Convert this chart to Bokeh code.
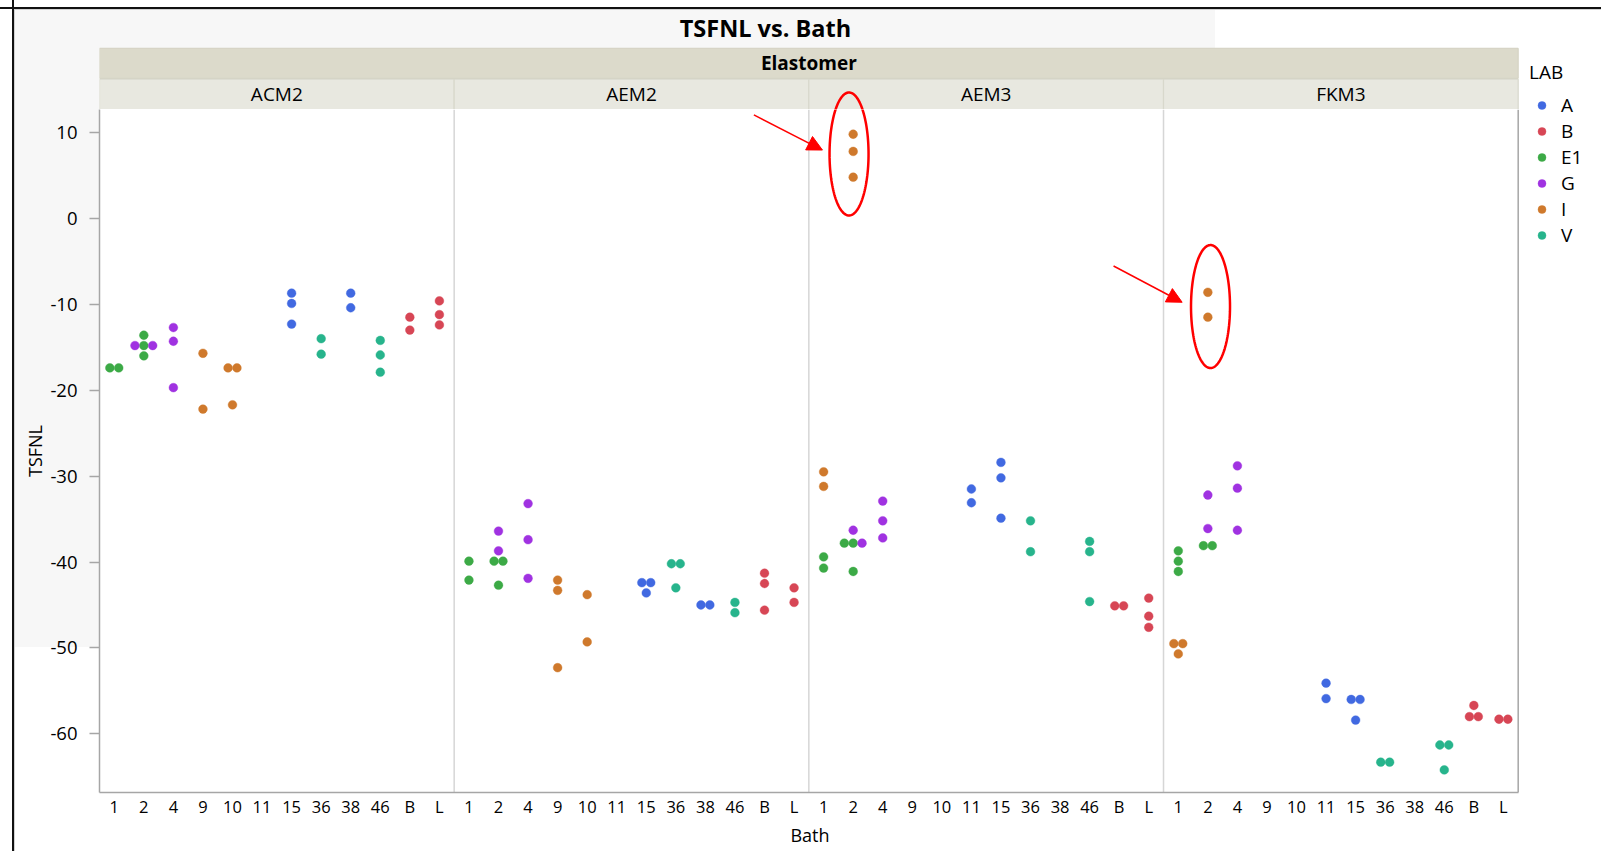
import numpy as np
from bokeh.plotting import figure
from bokeh.layouts import row, column
from bokeh.models import (ColumnDataSource, Range1d, FixedTicker, Legend, LegendItem,
                          Arrow, NormalHead)
from bokeh.core.properties import value
from bokeh.embed import file_html
from bokeh.resources import INLINE

# ---------------- data ----------------
elastomers = ["ACM2", "AEM2", "AEM3", "FKM3"]
baths = ["1", "2", "4", "9", "10", "11", "15", "36", "38", "46", "B", "L"]
labs = ["A", "B", "E1", "G", "I", "V"]
lab_colors = ["#4169E1", "#D74655", "#3CAA46", "#A032E1", "#CF792C", "#27B48C"]
y_ticks = [10, 0, -10, -20, -30, -40, -50, -60]

ACM2_bath = ["1", "1", "2", "2", "2", "2", "2", "4", "4", "4", "9", "9", "10", "10", "10",
             "15", "15", "15", "36", "36", "38", "38", "46", "46", "46", "B", "B", "L", "L", "L"]
ACM2_lab = ["E1", "E1", "E1", "G", "E1", "G", "E1", "G", "G", "G", "I", "I", "I", "I", "I",
            "A", "A", "A", "V", "V", "A", "A", "V", "V", "V", "B", "B", "B", "B", "B"]
ACM2_tsfnl = [-17.4, -17.4, -13.6, -14.8, -14.8, -14.8, -16.0, -12.7, -14.3, -19.7, -15.7, -22.2,
              -17.4, -17.4, -21.7, -8.7, -9.9, -12.3, -14.0, -15.8, -8.7, -10.4, -14.2, -15.9, -17.9,
              -11.5, -13.0, -9.6, -11.2, -12.4]

AEM2_bath = ["1", "1", "2", "2", "2", "2", "2", "4", "4", "4", "9", "9", "9", "10", "10",
             "15", "15", "15", "36", "36", "36", "38", "38", "46", "46", "B", "B", "B", "L", "L"]
AEM2_lab = ["E1", "E1", "G", "G", "E1", "E1", "E1", "G", "G", "G", "I", "I", "I", "I", "I",
            "A", "A", "A", "V", "V", "V", "A", "A", "V", "V", "B", "B", "B", "B", "B"]
AEM2_tsfnl = [-39.9, -42.1, -36.4, -38.7, -39.9, -39.9, -42.7, -33.2, -37.4, -41.9, -42.1, -43.3,
              -52.3, -43.8, -49.3, -42.4, -42.4, -43.6, -40.2, -40.2, -43.0, -45.0, -45.0, -44.7,
              -45.9, -41.3, -42.5, -45.6, -43.0, -44.7]

AEM3_bath = ["1", "1", "1", "1", "2", "2", "2", "2", "2", "2", "2", "2", "4", "4", "4",
             "11", "11", "15", "15", "15", "36", "36", "46", "46", "46", "B", "B", "L", "L", "L"]
AEM3_lab = ["I", "I", "E1", "E1", "I", "I", "I", "G", "E1", "E1", "G", "E1", "G", "G", "G",
            "A", "A", "A", "A", "A", "V", "V", "V", "V", "V", "B", "B", "B", "B", "B"]
AEM3_tsfnl = [-29.5, -31.2, -39.4, -40.7, 9.8, 7.8, 4.8, -36.3, -37.8, -37.8, -37.8, -41.1,
              -32.9, -35.2, -37.2, -31.5, -33.1, -28.4, -30.2, -34.9, -35.2, -38.8, -37.6, -38.8,
              -44.6, -45.1, -45.1, -44.2, -46.3, -47.6]

FKM3_bath = ["1", "1", "1", "1", "1", "1", "2", "2", "2", "2", "2", "2", "4", "4", "4",
             "11", "11", "15", "15", "15", "36", "36", "46", "46", "46", "B", "B", "B", "L", "L"]
FKM3_lab = ["E1", "E1", "E1", "I", "I", "I", "I", "I", "G", "G", "E1", "E1", "G", "G", "G",
            "A", "A", "A", "A", "A", "V", "V", "V", "V", "V", "B", "B", "B", "B", "B"]
FKM3_tsfnl = [-38.7, -39.9, -41.1, -49.5, -49.5, -50.7, -8.6, -11.5, -32.2, -36.1, -38.1, -38.1,
              -28.8, -31.4, -36.3, -54.1, -55.9, -56.0, -56.0, -58.4, -63.3, -63.3, -61.3, -61.3,
              -64.2, -56.7, -58.0, -58.0, -58.3, -58.3]

panels = [(ACM2_bath, ACM2_lab, ACM2_tsfnl), (AEM2_bath, AEM2_lab, AEM2_tsfnl),
          (AEM3_bath, AEM3_lab, AEM3_tsfnl), (FKM3_bath, FKM3_lab, FKM3_tsfnl)]

# ---------------- layout constants ----------------
MAIN_W, TOP_H, LEG_W, TOTAL_H = 1520, 109, 81, 851
LEFT = 99                                      # y-axis position
NB = len(baths)
X0, X1 = -0.5, len(elastomers) * NB - 0.5      # the 4 panels
PX_X = 29.556                                  # px per category
X_R = X0 + (MAIN_W - LEFT) / PX_X
PX_Y = 8.59                                    # px per TSFNL unit
Y_BOTTOM, PLOT_TOP, Y_TOP = -66.83, 12.68, 25.37
STRIP_TOP, STRIP_SPLIT_HI, STRIP_SPLIT_LO = 19.81, 16.3, 16.2
FONT = value("Open Sans")
AXIS_GRAY = "#A6A6A6"
GRAY = "#F7F7F7"
BLACK = "#111111"


def dodge(bath_list, vals, spacing=0.3, tol=0.5):
    """Spread coincident points horizontally, JMP style."""
    offs = [0.0] * len(vals)
    groups = {}
    for i, (b, v) in enumerate(zip(bath_list, vals)):
        rows = groups.setdefault(b, [])
        for r_ in rows:
            if abs(vals[r_[0]] - v) < tol:
                r_.append(i)
                break
        else:
            rows.append([i])
    for rows in groups.values():
        for r_ in rows:
            n = len(r_)
            for k, i in enumerate(r_):
                offs[i] = (k - (n - 1) / 2) * spacing
    return offs


per_lab = {lab: {"x": [], "y": []} for lab in labs}
for pi, (bl, ll, vl) in enumerate(panels):
    offs = dodge(bl, vl)
    for b, l, v, o in zip(bl, ll, vl, offs):
        per_lab[l]["x"].append(pi * NB + baths.index(b) + o)
        per_lab[l]["y"].append(v)

xr = Range1d(X0, X_R)


def bare(fig):
    fig.xgrid.visible = False
    fig.ygrid.visible = False


def css(*layers):
    return {"background": ", ".join(list(layers) + ["#ffffff"])}


# ellipse outlines (annotations), in data units
ellipses = [(24.86, 7.5), (37.09, -10.26)]
t = np.linspace(0, 2 * np.pi, 160)


def draw_ellipses(fig):
    for cx, cy in ellipses:
        fig.line(cx + 19.5 / PX_X * np.cos(t), cy + 61.5 / PX_Y * np.sin(t),
                 line_color="#FF0000", line_width=2.5)


# ---------------- top figure: title + strips ----------------
top = figure(width=MAIN_W, height=TOP_H, x_range=xr, y_range=Range1d(PLOT_TOP, Y_TOP),
             output_backend="svg", toolbar_location=None, title=None,
             x_axis_location=None, y_axis_location=None,
             min_border_left=LEFT, min_border_right=0, min_border_top=0, min_border_bottom=0,
             background_fill_alpha=0, border_fill_alpha=0, outline_line_color=None)
bare(top)
top.styles = css(
    f"linear-gradient({BLACK},{BLACK}) 12px 0px / 2px 100% no-repeat",
    f"linear-gradient({BLACK},{BLACK}) 0px 7px / 100% 2px no-repeat",
    "linear-gradient(#d2d2d2,#d2d2d2) 14px 9px / 100% 1px no-repeat",
    "linear-gradient(#d2d2d2,#d2d2d2) 14px 9px / 1px 100% no-repeat",
    f"linear-gradient({GRAY},{GRAY}) 15px 10px / 1200px 38px no-repeat",
    f"linear-gradient({GRAY},{GRAY}) 15px 10px / 84px 100% no-repeat",
)
top.text(x=[22.03], y=[22.15], text=["TSFNL vs. Bath"], text_font=FONT,
         text_font_size="23.5px", text_font_style="bold", text_align="center",
         text_baseline="middle", text_color="#000000")
top.quad(left=[X0], right=[X1], bottom=[STRIP_SPLIT_HI], top=[STRIP_TOP],
         fill_color="#DCDACB", line_color="#D2D0C0", line_width=1)
top.quad(left=[i * NB - 0.5 for i in range(len(elastomers))],
         right=[i * NB + NB - 0.5 for i in range(len(elastomers))],
         bottom=[PLOT_TOP] * len(elastomers), top=[STRIP_SPLIT_LO] * len(elastomers),
         fill_color="#E8E8E0", line_color="#D8D8CC", line_width=1.2)
top.text(x=[(X0 + X1) / 2], y=[(STRIP_SPLIT_HI + STRIP_TOP) / 2], text=["Elastomer"],
         text_font=FONT, text_font_size="19px", text_font_style="bold",
         text_align="center", text_baseline="middle", text_color="#000000")
top.text(x=[i * NB + (NB - 1) / 2 for i in range(len(elastomers))],
         y=[(PLOT_TOP + STRIP_SPLIT_LO) / 2] * len(elastomers), text=elastomers,
         text_font=FONT, text_font_size="19px", text_align="center", text_baseline="middle",
         text_color="#000000")
draw_ellipses(top)

# ---------------- main figure: the data ----------------
p = figure(width=MAIN_W, height=TOTAL_H - TOP_H, x_range=xr,
           y_range=Range1d(Y_BOTTOM, PLOT_TOP),
           output_backend="svg", toolbar_location=None, title=None,
           min_border_left=LEFT, min_border_right=0, min_border_top=0, min_border_bottom=59,
           background_fill_alpha=0, border_fill_alpha=0, outline_line_color=None)
bare(p)
p.styles = css(
    f"linear-gradient({BLACK},{BLACK}) 12px 0px / 2px 100% no-repeat",
    "linear-gradient(#d2d2d2,#d2d2d2) 14px 0px / 1px 100% no-repeat",
    f"linear-gradient({GRAY},{GRAY}) 15px 0px / 84px 538px no-repeat",
)

p.segment(x0=[i * NB - 0.5 for i in range(1, len(elastomers))],
          x1=[i * NB - 0.5 for i in range(1, len(elastomers))],
          y0=[Y_BOTTOM] * 3, y1=[PLOT_TOP] * 3, line_color="#D6D6D6", line_width=1.5)
p.segment(x0=[X1], x1=[X1], y0=[Y_BOTTOM], y1=[PLOT_TOP],
          line_color=AXIS_GRAY, line_width=1.5)

for lab, col in zip(labs, lab_colors):
    src = ColumnDataSource(per_lab[lab])
    p.scatter("x", "y", source=src, size=8.8, fill_color=col, line_color=col, line_width=0.4)

draw_ellipses(p)
for xs, ys, xe, ye in [(21.64, 12.05, 23.96, 7.96), (33.81, -5.54, 36.13, -9.76)]:
    p.add_layout(Arrow(end=NormalHead(size=15, fill_color="#FF0000", line_color="#FF0000"),
                       x_start=xs, y_start=ys, x_end=xe, y_end=ye,
                       line_color="#FF0000", line_width=1.5))

xa = p.xaxis[0]
xa.ticker = FixedTicker(ticks=list(range(len(elastomers) * NB)))
xa.major_label_overrides = {i: baths[i % NB] for i in range(len(elastomers) * NB)}
xa.bounds = (X0, X1)
xa.major_tick_out = 0
xa.major_tick_in = 0
xa.minor_tick_out = 0
xa.minor_tick_in = 0
xa.major_label_standoff = 2
xa.major_label_text_font = "Open Sans"
xa.major_label_text_font_size = "16.5px"
xa.major_label_text_color = "#000000"
xa.axis_line_color = AXIS_GRAY
xa.axis_line_width = 1.5
xa.axis_label = "Bath"
xa.axis_label_text_font = "Open Sans"
xa.axis_label_text_font_size = "18px"
xa.axis_label_text_font_style = "normal"
xa.axis_label_text_color = "#000000"
xa.axis_label_standoff = 2

ya = p.yaxis[0]
ya.ticker = FixedTicker(ticks=y_ticks)
ya.major_label_overrides = {tk: str(tk) for tk in y_ticks}
ya.major_tick_out = 10
ya.major_tick_in = 0
ya.minor_tick_out = 0
ya.minor_tick_in = 0
ya.major_tick_line_color = AXIS_GRAY
ya.major_tick_line_width = 1.5
ya.major_label_standoff = 12
ya.major_label_text_font = "Open Sans"
ya.major_label_text_font_size = "18.5px"
ya.major_label_text_color = "#000000"
ya.axis_line_color = AXIS_GRAY
ya.axis_line_width = 1.5
ya.axis_label = "TSFNL"
ya.axis_label_text_font = "Open Sans"
ya.axis_label_text_font_size = "18px"
ya.axis_label_text_font_style = "normal"
ya.axis_label_text_color = "#000000"
ya.axis_label_standoff = 0

# ---------------- legend figure ----------------
lf = figure(width=LEG_W, height=TOTAL_H, x_range=Range1d(0, 1), y_range=Range1d(0, 1),
            output_backend="svg", toolbar_location=None, title=None,
            x_axis_location=None, y_axis_location=None,
            min_border_left=0, min_border_right=0, min_border_top=0, min_border_bottom=0,
            background_fill_alpha=0, border_fill_alpha=0, outline_line_color=None)
bare(lf)
lf.styles = css(
    f"linear-gradient({BLACK},{BLACK}) 0px 7px / 100% 2px no-repeat",
    "linear-gradient(#d2d2d2,#d2d2d2) 0px 9px / 100% 1px no-repeat",
)
items = []
for lab, col in zip(labs, lab_colors):
    # legend-only renderer (its single point is NaN, so nothing is plotted)
    r = lf.scatter(x=[np.nan], y=[np.nan], size=8.8, fill_color=col, line_color=col,
                   line_width=0.4)
    items.append(LegendItem(label=lab, renderers=[r]))
legend = Legend(items=items, title="LAB", location=(9, 603), orientation="vertical",
                margin=0, padding=0, spacing=0, glyph_width=25, glyph_height=20,
                label_standoff=7, label_height=20,
                label_text_font="Open Sans", label_text_font_size="19px",
                label_text_color="#000000",
                title_text_font="Open Sans", title_text_font_size="19px",
                title_text_font_style="normal", title_text_color="#000000", title_standoff=7,
                background_fill_alpha=0, border_line_color=None)
lf.add_layout(legend, "center")

layout = row(column(top, p), lf)
open("out.html", "w").write(file_html(layout, INLINE))
